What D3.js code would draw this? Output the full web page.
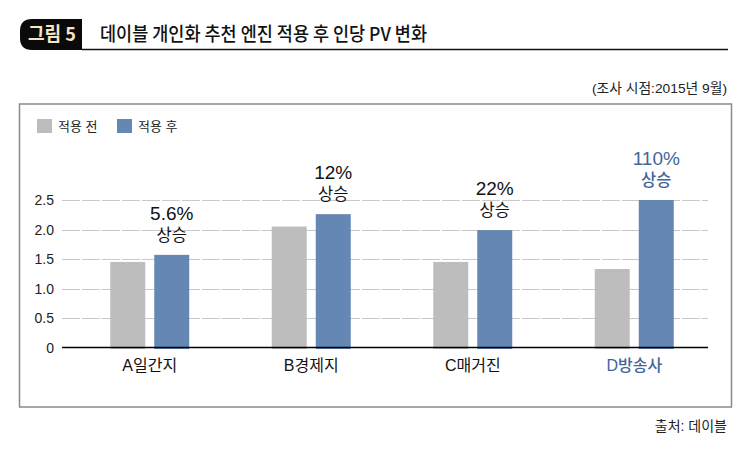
<!DOCTYPE html>
<html><head><meta charset="utf-8">
<script src="https://cdn.jsdelivr.net/npm/d3@7"></script>
<style>
html,body{margin:0;padding:0;background:#fff;}
svg{display:block;font-family:"Liberation Sans","Noto Sans CJK KR",sans-serif;}
</style></head>
<body>
<svg id="chart" width="749" height="450"></svg>
<script>
const categories = ["A일간지", "B경제지", "C매거진", "D방송사"];
const seriesNames = ["적용 전", "적용 후"];
const before = [1.45, 2.05, 1.45, 1.33];
const after = [1.57, 2.26, 1.99, 2.50];
const increaseLabels = ["5.6%", "12%", "22%", "110%"];
const yTicks = [0, 0.5, 1.0, 1.5, 2.0, 2.5];
const yTickLabels = ["0", "0.5", "1.0", "1.5", "2.0", "2.5"];

const colors = ["#bebdbd", "#6587b3"];
const highlight = "#3f6699";

const svg = d3.select("#chart");

// Title tag
svg.append("path")
  .attr("d", "M82,19 L32,19 Q20,19 20,31 L20,38 Q20,50 32,50 L82,50 Z")
  .attr("fill", "#0a0a0a");
svg.append("text").attr("x", 28).attr("y", 41)
  .attr("font-family", "'Noto Sans CJK KR'").attr("font-weight", 700)
  .attr("font-size", 19).attr("fill", "#f3e6c4")
  .attr("textLength", 48).attr("lengthAdjust", "spacingAndGlyphs")
  .text("그림 5");
svg.append("line").attr("x1", 82).attr("x2", 728).attr("y1", 49.5).attr("y2", 49.5)
  .attr("stroke", "#111").attr("stroke-width", 1.5);
svg.append("text").attr("x", 100).attr("y", 41)
  .attr("font-family", "'Noto Sans CJK KR'").attr("font-weight", 500)
  .attr("font-size", 19).attr("fill", "#111")
  .attr("textLength", 327).attr("lengthAdjust", "spacingAndGlyphs")
  .text("데이블 개인화 추천 엔진 적용 후 인당 PV 변화");

// subtitle
svg.append("text").attr("x", 727).attr("y", 93).attr("text-anchor", "end")
  .attr("font-size", 13.5).attr("fill", "#222")
  .attr("textLength", 135).attr("lengthAdjust", "spacingAndGlyphs")
  .text("(조사 시점:2015년 9월)");

// box
svg.append("rect").attr("x", 19.5).attr("y", 104).attr("width", 712).attr("height", 303)
  .attr("fill", "none").attr("stroke", "#8a8a8a").attr("stroke-width", 1.5);

// source
svg.append("text").attr("x", 727).attr("y", 431).attr("text-anchor", "end")
  .attr("font-size", 14).attr("fill", "#222")
  .text("출처: 데이블");

// legend
seriesNames.forEach((s, i) => {
  const lx = 37 + i * 80;
  svg.append("rect").attr("x", lx).attr("y", 119).attr("width", 15).attr("height", 14).attr("fill", colors[i]);
  svg.append("text").attr("x", lx + 21).attr("y", 131).attr("font-size", 13).attr("fill", "#222").text(s);
});

// scales
const y = d3.scaleLinear().domain([0, 2.5]).range([347.5, 200]);
const x0 = d3.scaleBand().domain(categories).range([69, 715]).paddingInner(0).paddingOuter(0);
const x1 = d3.scaleBand().domain(seriesNames).range([-39.5, 39.5]).paddingInner(0.205).paddingOuter(0);

// grid
svg.append("g").selectAll("line").data(yTicks.filter(d => d > 0)).join("line")
  .attr("x1", 62).attr("x2", 708)
  .attr("y1", d => Math.round(y(d)) + 0.5).attr("y2", d => Math.round(y(d)) + 0.5)
  .attr("stroke", "#c9c9c9").attr("stroke-width", 1.2).attr("stroke-dasharray", "18,2");

// y axis
const yAxis = d3.axisLeft(y).tickValues(yTicks).tickSize(0).tickPadding(0)
  .tickFormat((d, i) => yTickLabels[i]);
const ga = svg.append("g").attr("transform", "translate(54,0)").call(yAxis);
ga.select(".domain").remove();
ga.selectAll("text").attr("font-size", 14).attr("fill", "#222")
  .attr("font-family", "'Liberation Sans', sans-serif").attr("dy", "0.35em");

// bars
const data = categories.map((c, i) => ({c, i, vals: [before[i], after[i]]}));
const groups = svg.append("g").selectAll("g").data(data).join("g")
  .attr("transform", d => `translate(${x0(d.c) + x0.bandwidth() / 2},0)`);
groups.selectAll("rect").data(d => d.vals.map((v, k) => ({v, k}))).join("rect")
  .attr("x", d => x1(seriesNames[d.k]))
  .attr("width", x1.bandwidth())
  .attr("y", d => y(d.v))
  .attr("height", d => y(0) - y(d.v) + 1.5)
  .attr("fill", d => colors[d.k]);

// axis baseline
svg.append("line").attr("x1", 62).attr("x2", 708).attr("y1", y(0)).attr("y2", y(0))
  .attr("stroke", "#000").attr("stroke-width", 1.3);

// increase labels
groups.each(function(d) {
  const g = d3.select(this);
  const cx = x1(seriesNames[1]) + x1.bandwidth() / 2;
  const top = y(d.vals[1]);
  const isLast = d.i === categories.length - 1;
  const col = isLast ? highlight : "#111";
  g.append("text").attr("x", cx).attr("y", top - 14).attr("text-anchor", "middle")
    .attr("font-size", 16.5).attr("fill", col).attr("font-family", "'Noto Sans CJK KR'")
    .attr("font-weight", isLast ? 500 : 400)
    .text("상승");
  g.append("text").attr("x", cx).attr("y", top - 35).attr("text-anchor", "middle")
    .attr("font-size", 19).attr("fill", col)
    .text(increaseLabels[d.i]);
  g.append("text").attr("x", 0).attr("y", 371).attr("text-anchor", "middle")
    .attr("font-size", 16).attr("fill", isLast ? highlight : "#111")
    .attr("font-family", "'Liberation Sans','Noto Sans CJK KR'")
    .attr("font-weight", isLast ? 500 : 400)
    .text(d.c);
});
</script>
</body></html>
